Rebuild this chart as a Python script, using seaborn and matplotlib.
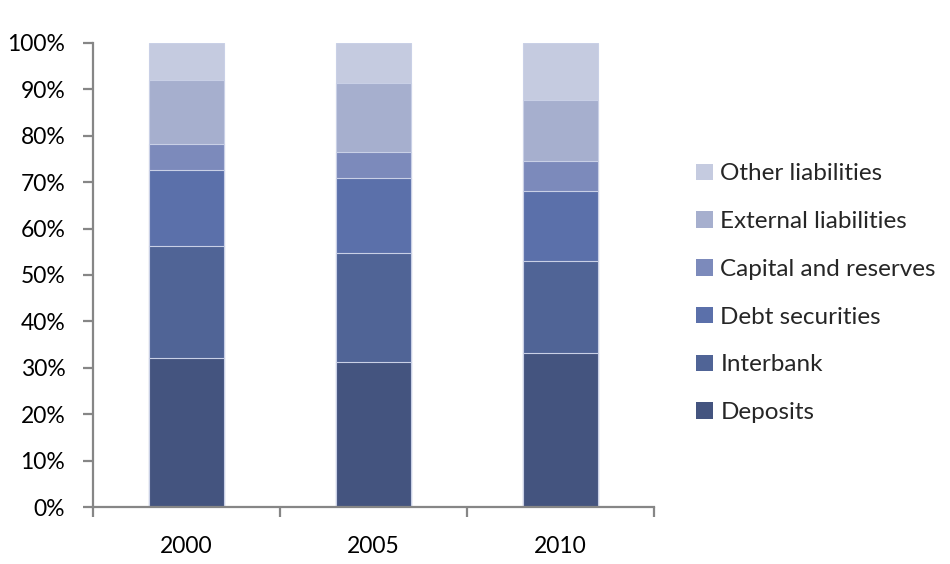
import numpy as np
import pandas as pd
import matplotlib
matplotlib.use("Agg")
import matplotlib.pyplot as plt
import seaborn as sns
from matplotlib.patches import Patch

years = ["2000", "2005", "2010"]
series = ["Deposits", "Interbank", "Debt securities", "Capital and reserves",
          "External liabilities", "Other liabilities"]
deposits = [32.2, 31.2, 33.1]
interbank = [24.1, 23.5, 19.8]
debt_securities = [16.3, 16.1, 15.2]
capital_reserves = [5.6, 5.7, 6.4]
external_liabilities = [13.8, 14.8, 13.2]
other_liabilities = [8.0, 8.7, 12.3]
colors = ["#44547f", "#506496", "#5b70aa", "#7c8abb", "#a6afce", "#c5cbe0"]

values = np.array([deposits, interbank, debt_securities, capital_reserves,
                   external_liabilities, other_liabilities])
shares = values / values.sum(axis=0) * 100
cum = np.cumsum(shares, axis=0)

sns.set_theme(style="white")
plt.rcParams["font.family"] = ["Lato", "DejaVu Sans"]

fig = plt.figure(figsize=(9.5, 5.64), dpi=100)
ax = fig.add_axes([0.098, 0.101, 0.590, 0.823])

# stacked bars: draw cumulative totals from the top layer down
for i in range(len(series) - 1, -1, -1):
    df = pd.DataFrame({"year": years, "value": cum[i]})
    sns.barplot(data=df, x="year", y="value", color=colors[i], width=0.4,
                saturation=1, edgecolor="#c9d0e6", linewidth=0.8, ax=ax)

ax.set_xlim(-0.5, 2.5)
ax.set_ylim(0, 100)
ax.set_xlabel("")
ax.set_ylabel("")
ax.set_yticks(np.arange(0, 101, 10))
ax.set_yticklabels([f"{v}%" for v in range(0, 101, 10)])
ax.set_xticks([0, 1, 2])
ax.set_xticklabels(years)
ax.set_xticks([-0.5, 0.5, 1.5, 2.5], minor=True)

axis_color = "#868686"
for side in ["top", "right"]:
    ax.spines[side].set_visible(False)
for side in ["left", "bottom"]:
    ax.spines[side].set_color(axis_color)
    ax.spines[side].set_linewidth(1.6)

ax.tick_params(axis="y", which="major", left=True, length=7, width=1.6,
               color=axis_color, labelsize=16.5, pad=13, labelcolor="black")
ax.tick_params(axis="x", which="major", bottom=False, labelsize=16.5, pad=15,
               labelcolor="black")
ax.tick_params(axis="x", which="minor", bottom=True, length=7, width=1.6,
               color=axis_color)

handles = [Patch(facecolor=colors[i], edgecolor="none", label=series[i])
           for i in range(len(series) - 1, -1, -1)]
fig.legend(handles=handles, loc="center left", bbox_to_anchor=(0.7225, 0.480),
           frameon=False, fontsize=17.5, handlelength=0.68, handleheight=0.68,
           handletextpad=0.32, labelspacing=1.1, borderaxespad=0)

fig.savefig("out.png", dpi=100, facecolor="white")
